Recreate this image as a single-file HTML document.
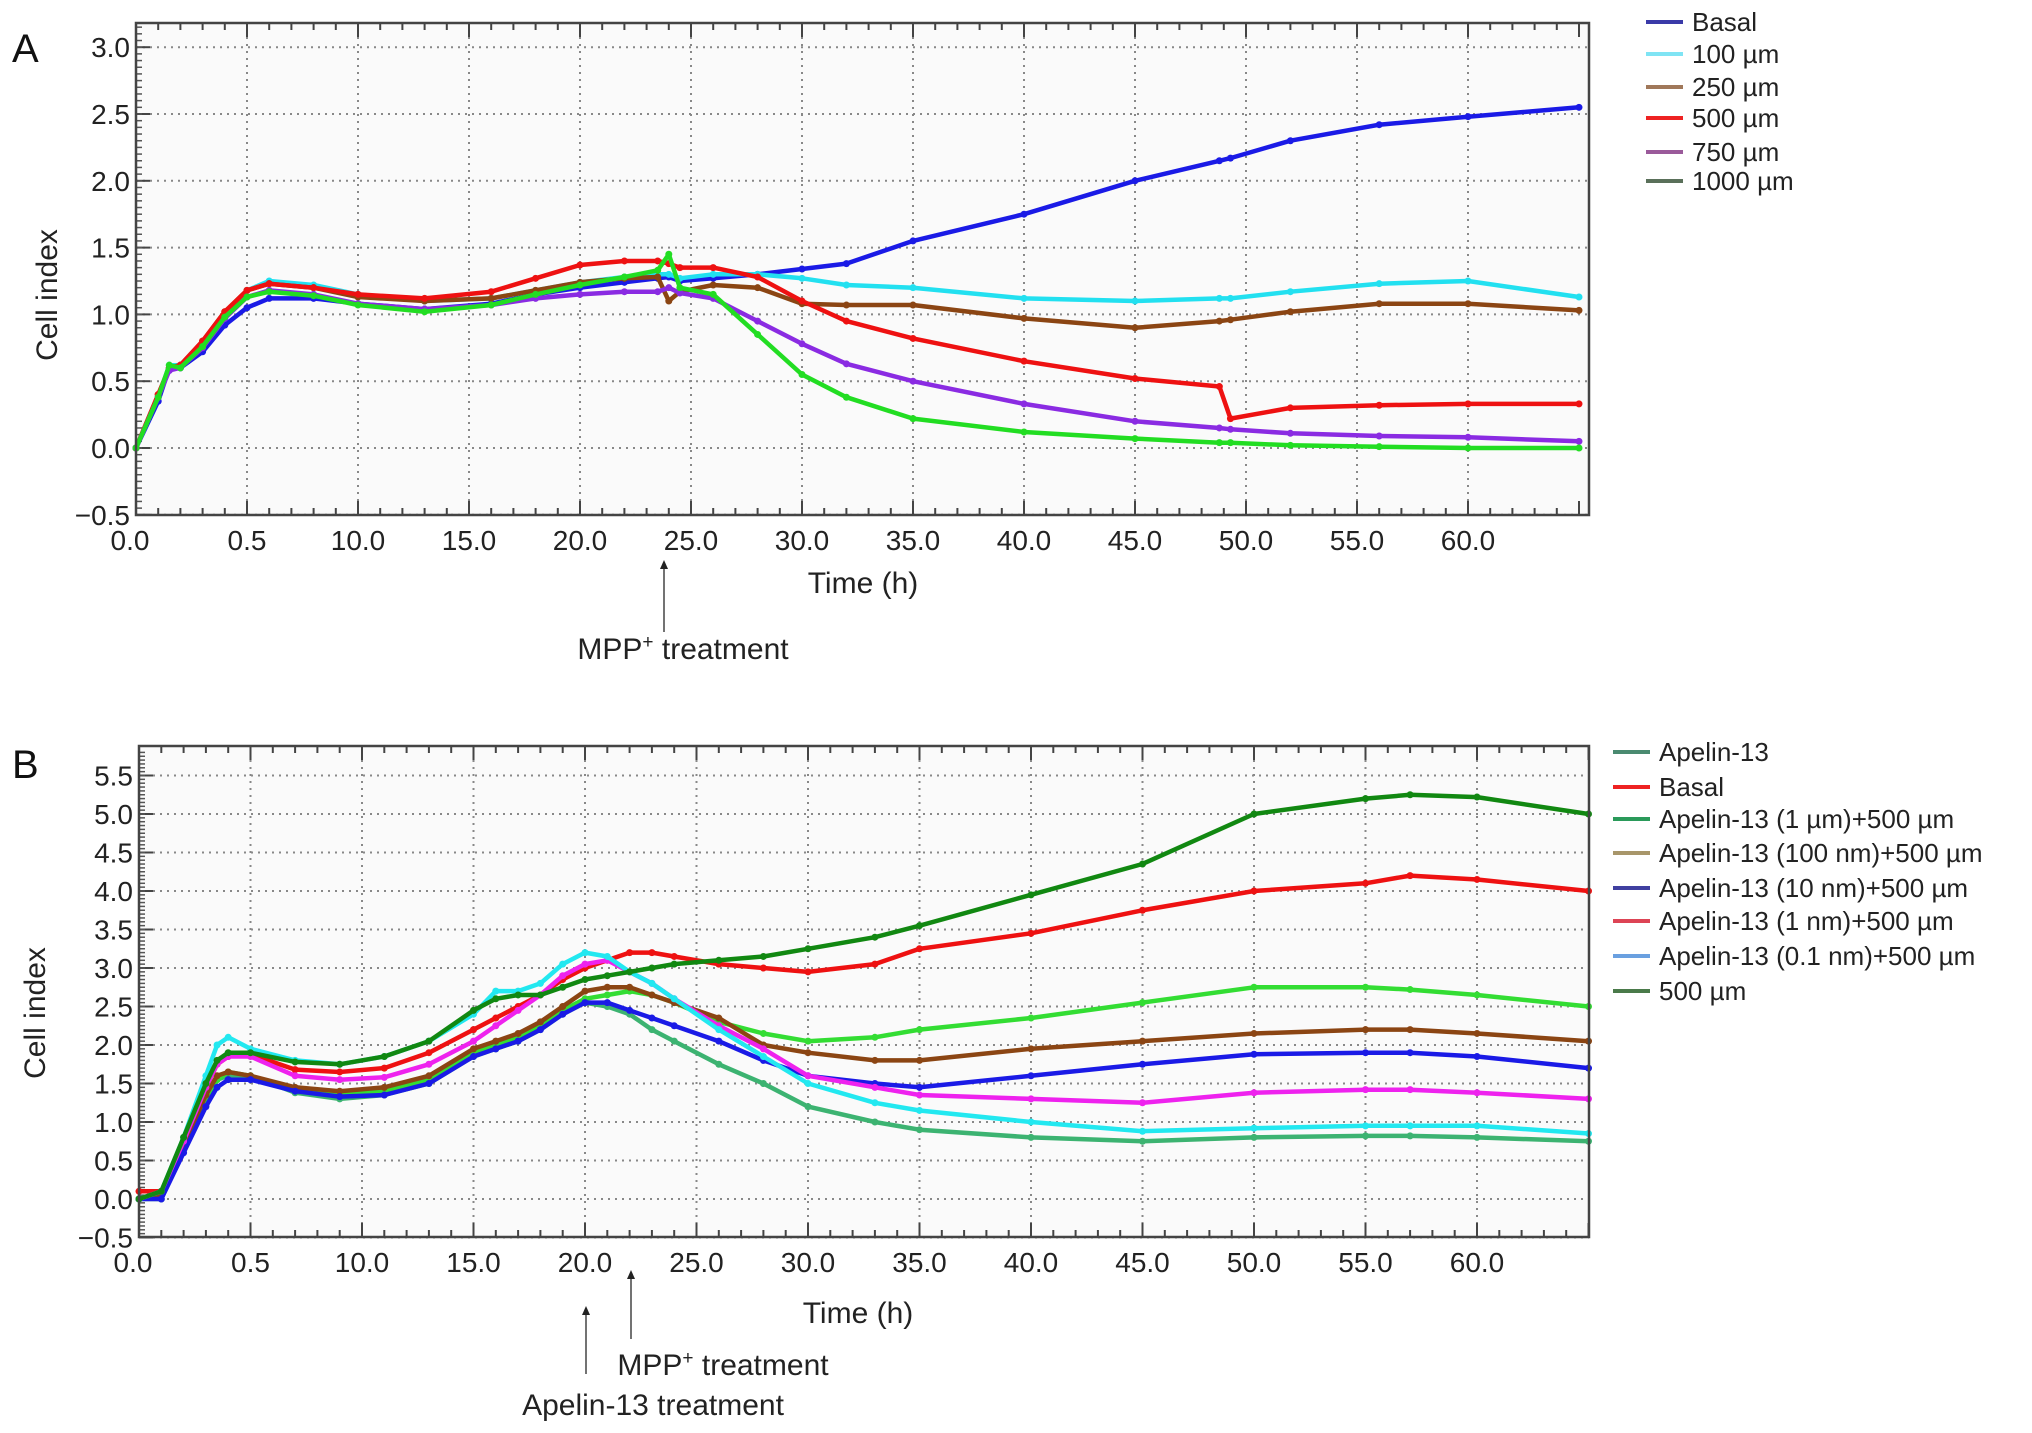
<!DOCTYPE html>
<html><head><meta charset="utf-8"><style>
html,body{margin:0;padding:0;background:#fff;}
svg{display:block;font-family:"Liberation Sans",Arial,sans-serif;}
</style></head><body>
<svg id="fig" width="2032" height="1433" viewBox="0 0 2032 1433" xmlns="http://www.w3.org/2000/svg">
<rect width="2032" height="1433" fill="#fff"/>
</svg>
<script>
// ---------- Panel A data ----------
const timesA = [0,1,1.5,2,3,4,5,6,8,10,13,16,18,20,22,23.5,24,24.5,26,28,30,32,35,40,45,48.8,49.3,52,56,60,65];
const basalA = [0,0.35,0.6,0.6,0.72,0.92,1.05,1.12,1.12,1.08,1.04,1.08,1.15,1.2,1.24,1.27,1.28,1.25,1.27,1.3,1.34,1.38,1.55,1.75,2.0,2.15,2.17,2.3,2.42,2.48,2.55];
const um100A = [0,0.38,0.62,0.62,0.78,1.0,1.18,1.25,1.22,1.15,1.1,1.12,1.18,1.24,1.28,1.3,1.3,1.27,1.3,1.3,1.27,1.22,1.2,1.12,1.1,1.12,1.12,1.17,1.23,1.25,1.13];
const um250A = [0,0.4,0.6,0.62,0.8,1.02,1.18,1.23,1.2,1.13,1.1,1.12,1.18,1.24,1.27,1.28,1.1,1.17,1.22,1.2,1.08,1.07,1.07,0.97,0.9,0.95,0.96,1.02,1.08,1.08,1.03];
const um500A = [0,0.4,0.6,0.62,0.8,1.02,1.18,1.23,1.2,1.15,1.12,1.17,1.27,1.37,1.4,1.4,1.38,1.35,1.35,1.28,1.1,0.95,0.82,0.65,0.52,0.46,0.22,0.3,0.32,0.33,0.33];
const um750A = [0,0.38,0.58,0.6,0.75,0.97,1.13,1.18,1.15,1.08,1.04,1.07,1.12,1.15,1.17,1.17,1.2,1.16,1.12,0.95,0.78,0.63,0.5,0.33,0.2,0.15,0.14,0.11,0.09,0.08,0.05];
const um1000A = [0,0.38,0.62,0.6,0.76,0.98,1.13,1.17,1.14,1.07,1.02,1.07,1.15,1.22,1.28,1.33,1.45,1.2,1.15,0.85,0.55,0.38,0.22,0.12,0.07,0.04,0.04,0.02,0.01,0.0,0.0];
const seriesNamesA = ["Basal","100 µm","250 µm","500 µm","750 µm","1000 µm"];
const yTicksA = [3.0,2.5,2.0,1.5,1.0,0.5,0.0,-0.5];
// ---------- Panel B data ----------
const timesB = [0,1,2,3,3.5,4,5,7,9,11,13,15,16,17,18,19,20,21,22,23,24,26,28,30,33,35,40,45,50,55,57,60,65];
const apelinB = [0,0.0,0.65,1.3,1.55,1.6,1.6,1.38,1.3,1.35,1.5,1.85,1.95,2.05,2.2,2.4,2.55,2.5,2.4,2.2,2.05,1.75,1.5,1.2,1.0,0.9,0.8,0.75,0.8,0.82,0.82,0.8,0.75];
const basalB = [0.1,0.1,0.75,1.45,1.75,1.85,1.88,1.68,1.65,1.7,1.9,2.2,2.35,2.5,2.65,2.85,3.0,3.1,3.2,3.2,3.15,3.05,3.0,2.95,3.05,3.25,3.45,3.75,4.0,4.1,4.2,4.15,4.0];
const a1umB = [0,0.05,0.7,1.3,1.55,1.65,1.6,1.4,1.35,1.4,1.55,1.9,2.0,2.1,2.25,2.45,2.6,2.65,2.7,2.65,2.55,2.3,2.15,2.05,2.1,2.2,2.35,2.55,2.75,2.75,2.72,2.65,2.5];
const a100nmB = [0,0.05,0.7,1.35,1.6,1.65,1.6,1.45,1.4,1.45,1.6,1.95,2.05,2.15,2.3,2.5,2.7,2.75,2.75,2.65,2.55,2.35,2.0,1.9,1.8,1.8,1.95,2.05,2.15,2.2,2.2,2.15,2.05];
const a10nmB = [0,0.0,0.6,1.2,1.45,1.55,1.55,1.4,1.33,1.35,1.5,1.85,1.95,2.05,2.2,2.4,2.55,2.55,2.45,2.35,2.25,2.05,1.8,1.6,1.5,1.45,1.6,1.75,1.88,1.9,1.9,1.85,1.7];
const a1nmB = [0,0.1,0.75,1.45,1.75,1.85,1.85,1.6,1.55,1.58,1.75,2.05,2.25,2.45,2.65,2.9,3.05,3.1,2.95,2.8,2.6,2.25,1.95,1.6,1.45,1.35,1.3,1.25,1.38,1.42,1.42,1.38,1.3];
const a01nmB = [0,0.1,0.8,1.6,2.0,2.1,1.95,1.8,1.75,1.85,2.05,2.4,2.7,2.7,2.8,3.05,3.2,3.15,2.95,2.8,2.6,2.2,1.85,1.5,1.25,1.15,1.0,0.88,0.92,0.95,0.95,0.95,0.85];
const um500B = [0,0.1,0.8,1.5,1.8,1.9,1.9,1.78,1.75,1.85,2.05,2.45,2.6,2.65,2.65,2.75,2.85,2.9,2.95,3.0,3.05,3.1,3.15,3.25,3.4,3.55,3.95,4.35,5.0,5.2,5.25,5.22,5.0];
const seriesNamesB = ["Apelin-13","Basal","Apelin-13 (1 µm)+500 µm","Apelin-13 (100 nm)+500 µm","Apelin-13 (10 nm)+500 µm","Apelin-13 (1 nm)+500 µm","Apelin-13 (0.1 nm)+500 µm","500 µm"];
const yTicksB = [5.5,5.0,4.5,4.0,3.5,3.0,2.5,2.0,1.5,1.0,0.5,0.0,-0.5];
const xTickLabels = ["0.0","0.5","10.0","15.0","20.0","25.0","30.0","35.0","40.0","45.0","50.0","55.0","60.0"];
const xTickValues = [0,5,10,15,20,25,30,35,40,45,50,55,60];

const NS="http://www.w3.org/2000/svg";
const svg=document.getElementById('fig');
function mk(tag,attrs,parent){const e=document.createElementNS(NS,tag);for(const k in attrs)e.setAttribute(k,attrs[k]);(parent||svg).appendChild(e);return e;}
function fmt(v){return v<0?"\u2212"+Math.abs(v).toFixed(1):v.toFixed(1);}

function panel(cfg){
  const g=mk('g',{});
  
  
  const L=cfg.left,R=cfg.right,T=cfg.top,B=cfg.bottom;
  const xs=t=>L+(t-0)*cfg.pxPerH;
  const ys=v=>cfg.y0+(-v)*cfg.pxPerUnit;
  const bg=mk('rect',{x:L,y:T,width:R-L,height:B-T,fill:'#fafafa'},g);
  
  
  cfg.yTicks.forEach(v=>{
    const gl=mk('line',{x1:L,x2:R,y1:ys(v),y2:ys(v),stroke:'#888','stroke-width':2,'stroke-dasharray':'2 5'},g);
    
    
    const tl=mk('text',{x:L-6,y:ys(v)+10,'font-size':28,'text-anchor':'end',fill:'#222'},g);
    tl.textContent=fmt(v);
    
    
    mk('line',{x1:L,x2:L+14,y1:ys(v),y2:ys(v),stroke:'#444','stroke-width':2},g);
  });
  const ymin=cfg.yTicks[cfg.yTicks.length-1],ymax=cfg.yTicks[0];
  for(let v=ymin;v<=ymax+0.3;v+=0.05){const y=ys(v);if(y<T)break;mk('line',{x1:L,x2:L+6,y1:y,y2:y,stroke:'#555','stroke-width':1.5},g);}
  xTickValues.forEach((t,i)=>{
    if(i>0){const gl=mk('line',{x1:xs(t),x2:xs(t),y1:T,y2:B,stroke:'#888','stroke-width':2,'stroke-dasharray':'2 5'},g);
      
      }
    const tl=mk('text',{x:xs(t)-(i==0?6:0),y:cfg.tickBase,'font-size':28,'text-anchor':'middle',fill:'#222'},g);
    tl.textContent=xTickLabels[i];
    
    
  });
  for(let t=0;xs(t)<R;t+=1){const big=t%5==0;
    mk('line',{x1:xs(t),x2:xs(t),y1:B,y2:B-(big?14:7),stroke:'#444','stroke-width':2},g);
    mk('line',{x1:xs(t),x2:xs(t),y1:T,y2:T+(big?14:7),stroke:'#444','stroke-width':2},g);}
  cfg.series.forEach((s,i)=>{
    const pts=cfg.times.map((t,j)=>xs(t).toFixed(1)+','+ys(s.vals[j]).toFixed(1)).join(' ');
    const pl=mk('polyline',{points:pts,fill:'none',stroke:s.color,'stroke-width':4.5,'stroke-linejoin':'round'},g);
    
    
    cfg.times.forEach((t,j)=>{const m=mk('circle',{cx:xs(t),cy:ys(s.vals[j]),r:3.5,fill:s.color},g);
      
      });
  });
  const fr=mk('rect',{x:L,y:T,width:R-L,height:B-T,fill:'none',stroke:'#444','stroke-width':2.5},g);
  
  
  const xl=mk('text',{x:cfg.xLabelX,y:cfg.xLabelY,'font-size':30,'text-anchor':'middle',fill:'#222'},g);
  xl.textContent='Time (h)';
  
  
  const yl=mk('text',{x:0,y:0,'font-size':30,'text-anchor':'middle',fill:'#222',transform:`translate(${cfg.yLabelX},${cfg.yLabelY}) rotate(-90)`},g);
  yl.textContent='Cell index';
  
  
  const pl=mk('text',{x:cfg.letterX,y:cfg.letterY,'font-size':40,fill:'#111'},g);
  pl.textContent=cfg.letter;
  
  
  cfg.legendNames.forEach((n,i)=>{
    const y=cfg.legendYs[i];
    const ll=mk('line',{x1:cfg.legX,x2:cfg.legX+37,y1:y,y2:y,stroke:cfg.legendColors[i],'stroke-width':4},g);
    
    
    const lt=mk('text',{x:cfg.legX+46,y:y+9,'font-size':26,fill:'#222'},g);
    lt.textContent=n;
    
    
  });
}

panel({name:'panel-a',letter:'A',letterX:12,letterY:62,left:136,right:1589,top:23,bottom:515,y0:448,pxPerUnit:133.6,pxPerH:22.2,
  yTicks:yTicksA,tickBase:550,xLabelX:863,xLabelY:593,yLabelX:57,yLabelY:295,times:timesA,
  series:[{vals:basalA,color:'#1a1ae6'},{vals:um100A,color:'#22e0f0'},{vals:um250A,color:'#8b4513'},{vals:um500A,color:'#ee1111'},{vals:um750A,color:'#8a2be2'},{vals:um1000A,color:'#22dd22'}],
  legendNames:seriesNamesA,legendColors:['#3a3aa8','#7fe4f4','#a0785a','#ee2222','#9a5a9a','#5a705a'],legX:1646,legendYs:[22,54,87,118,152,181]});

panel({name:'panel-b',letter:'B',letterX:12,letterY:778,left:139,right:1589,top:746,bottom:1237,y0:1199,pxPerUnit:77,pxPerH:22.3,
  yTicks:yTicksB,tickBase:1272,xLabelX:858,xLabelY:1323,yLabelX:45,yLabelY:1013,times:timesB,
  series:[{vals:apelinB,color:'#3cb371'},{vals:basalB,color:'#ee1111'},{vals:a1umB,color:'#33dd33'},{vals:a100nmB,color:'#8b4513'},{vals:a10nmB,color:'#1a1ae6'},{vals:a1nmB,color:'#ee22ee'},{vals:a01nmB,color:'#22e8f0'},{vals:um500B,color:'#118811'}],
  legendNames:seriesNamesB,legendColors:['#4a8a70','#ee2222','#2a9a5a','#a8966a','#4040a0','#dd4455','#6aa0e0','#4a7a4a'],legX:1613,legendYs:[752,787,819,853,888,921,956,991]});

function arrow(x,y1,y2,name){const l=mk('line',{x1:x,x2:x,y1:y1+6,y2:y2,stroke:'#444','stroke-width':1.5});
  
  
  mk('polygon',{points:`${x},${y1} ${x-4},${y1+9} ${x+4},${y1+9}`,fill:'#222'});}
function label(x,y,name,parts){const t=mk('text',{x:x,y:y,'font-size':30,'text-anchor':'middle',fill:'#222'});
  
  
  t.innerHTML=parts;}
arrow(664,560,632,'mpp-arrow-a');
label(683,659,'mpp-annotation-a','MPP<tspan dy="-11" font-size="19">+</tspan><tspan dy="11"> treatment</tspan>');
arrow(586,1306,1374,'apelin-arrow-b');
arrow(631,1270,1339,'mpp-arrow-b');
label(723,1375,'mpp-annotation-b','MPP<tspan dy="-11" font-size="19">+</tspan><tspan dy="11"> treatment</tspan>');
label(653,1415,'apelin-annotation-b','Apelin-13 treatment');
</script>
</body></html>
